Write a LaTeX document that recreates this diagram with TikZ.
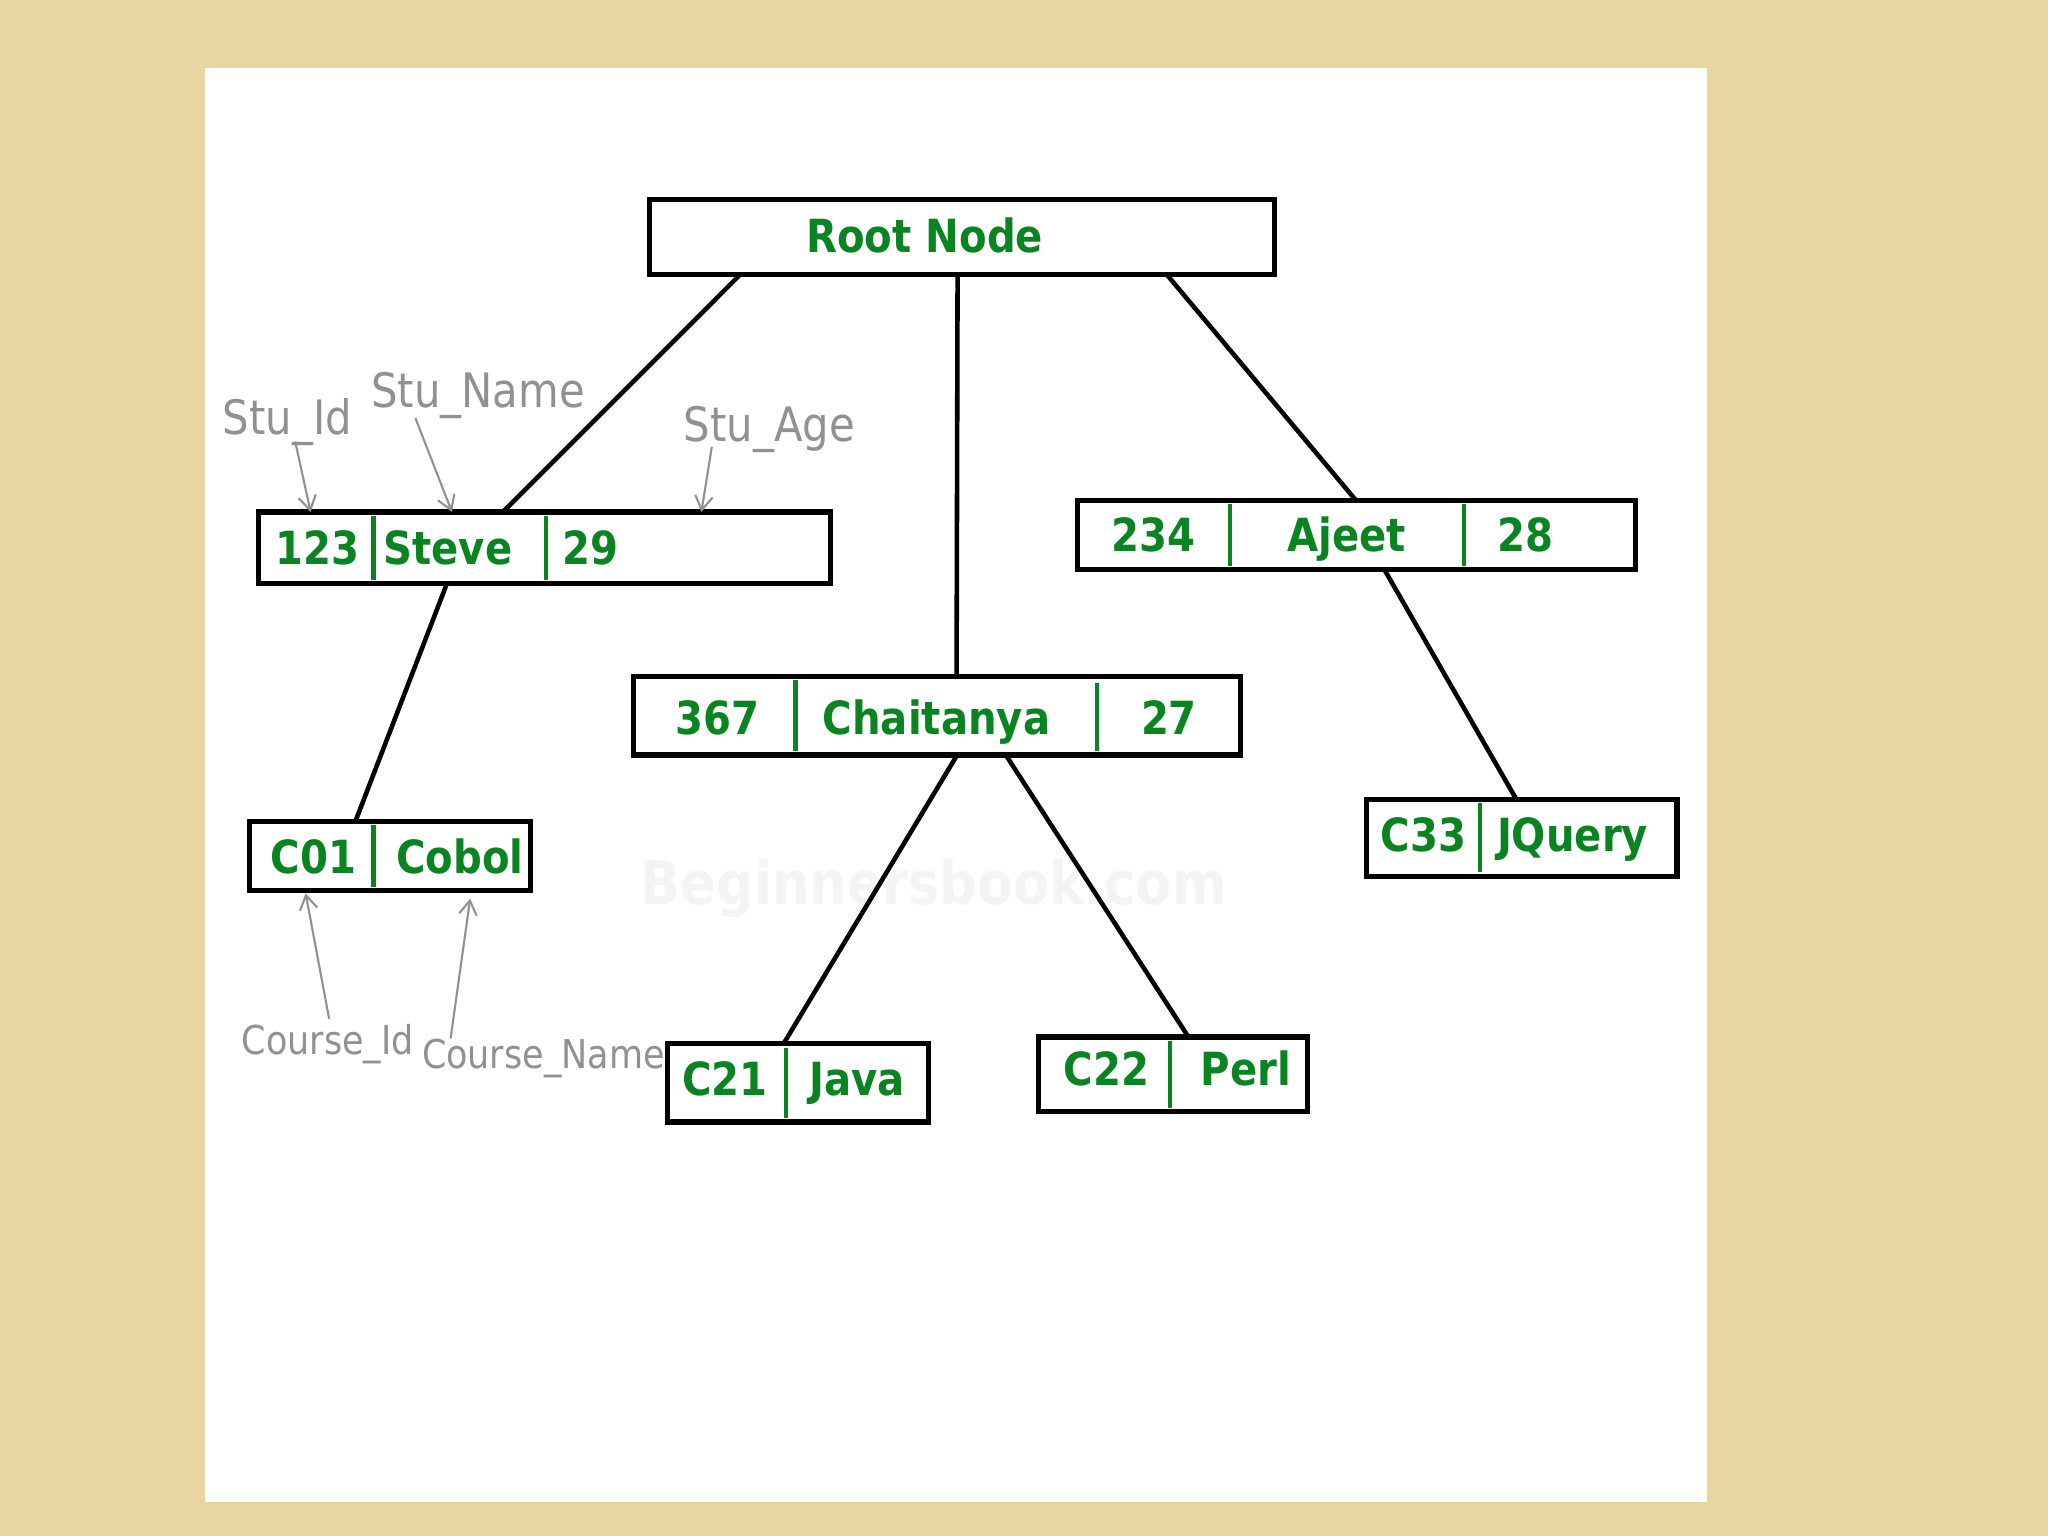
\documentclass[tikz,border=0pt]{standalone}
\usepackage{fontspec}
\newfontfamily\gfont{DejaVu Sans}[FakeStretch=0.88]
\usetikzlibrary{calc,arrows.meta}
\definecolor{bgtan}{RGB}{232,213,160}
\definecolor{dgreen}{RGB}{10,132,32}
\definecolor{lblgray}{RGB}{145,145,145}
\definecolor{wmark}{RGB}{244,244,244}
\begin{document}
\begin{tikzpicture}[x=0.013061cm,y=-0.013061cm,
 box/.style={draw=black,line width=1.5pt,fill=white,inner sep=0pt,outer sep=0pt},
 val/.style={text=dgreen,font=\gfont\bfseries\fontsize{13}{15}\selectfont,inner sep=0pt,anchor=base},
 div/.style={draw=dgreen,line width=1.2pt},
 edge/.style={draw=black,line width=1.3pt},
 lbl/.style={text=lblgray,font=\gfont\fontsize{13.5}{16}\selectfont,inner sep=0pt,anchor=base},
 slbl/.style={text=lblgray,font=\gfont\fontsize{11.3}{13}\selectfont,inner sep=0pt,anchor=base},
 pointer/.style={draw=lblgray,line width=0.6pt,-{Straight Barb[length=4pt,width=5pt]}}]
\useasboundingbox (0,0) rectangle (1568,1176);
\fill[bgtan] (0,0) rectangle (1568,1176);
\fill[white] (157,52) rectangle (1307,1150);
% watermark
\node[text=wmark,font=\gfont\bfseries\fontsize{17}{20}\selectfont,inner sep=0pt] (wm) at (715,680) {Beginnersbook.com};
% boxes
\node[box,minimum width=6.256cm,minimum height=0.744cm] (root) at (736.5,181.5) {};
\node[box,minimum width=5.721cm,minimum height=0.718cm] (steve) at (417,419.5) {};
\node[box,minimum width=5.577cm,minimum height=0.692cm] (ajeet) at (1038.5,409.5) {};
\node[box,minimum width=6.073cm,minimum height=0.784cm] (chai) at (717.5,548) {};
\node[box,minimum width=2.808cm,minimum height=0.692cm] (c01) at (298.5,655.5) {};
\node[box,minimum width=3.109cm,minimum height=0.771cm] (c33) at (1165,641.5) {};
\node[box,minimum width=2.612cm,minimum height=0.784cm] (c21) at (611,829) {};
\node[box,minimum width=2.691cm,minimum height=0.744cm] (c22) at (898,822.5) {};
% dividers
\draw[div] (286,395) -- (286,444);
\draw[div] (418,395) -- (418,444);
\draw[div] (942,386) -- (942,433);
\draw[div] (1121,386) -- (1121,433);
\draw[div] (609,521) -- (609,575);
\draw[div] (840,523) -- (840,575);
\draw[div] (286,632) -- (286,679);
\draw[div] (1133,615) -- (1133,668);
\draw[div] (602,802) -- (602,856);
\draw[div] (896,797) -- (896,848);
% texts
\node[val] (troot) at (708,193) {Root Node};
\node[val] (t123) at (243,432) {123};
\node[val] (tsteve) at (343,432) {Steve};
\node[val] (t29) at (452,432) {29};
\node[val] (t234) at (883,422) {234};
\node[val] (tajeet) at (1031,422) {Ajeet};
\node[val] (t28) at (1168,422) {28};
\node[val] (t367) at (549,562) {367};
\node[val] (tchai) at (717,562) {Chaitanya};
\node[val] (t27) at (895,562) {27};
\node[val] (tc01) at (240,669) {C01};
\node[val] (tcobol) at (352,669) {Cobol};
\node[val] (tc33) at (1090,652) {C33};
\node[val] (tjq) at (1204,652) {JQuery};
\node[val] (tc21) at (555,839) {C21};
\node[val] (tjava) at (656,839) {Java};
\node[val] (tc22) at (847,831) {C22};
\node[val] (tperl) at (954,831) {Perl};
% tree edges
\draw[edge] ($(root.south west)!0.146!(root.south east)$) -- ($(steve.north west)!0.427!(steve.north east)$);
\draw[edge] ($(root.south west)!0.493!(root.south east)$) -- ($(chai.north west)!0.532!(chai.north east)$);
\draw[edge] ($(root.south west)!0.827!(root.south east)$) -- ($(ajeet.north west)!0.499!(ajeet.north east)$);
\draw[edge] ($(steve.south west)!0.329!(steve.south east)$) -- ($(c01.north west)!0.377!(c01.north east)$);
\draw[edge] ($(ajeet.south west)!0.550!(ajeet.south east)$) -- ($(c33.north west)!0.483!(c33.north east)$);
\draw[edge] ($(chai.south west)!0.533!(chai.south east)$) -- ($(c21.north west)!0.445!(c21.north east)$);
\draw[edge] ($(chai.south west)!0.613!(chai.south east)$) -- ($(c22.north west)!0.558!(c22.north east)$);
% gray labels
\node[lbl] (sid) at (220,333) {Stu\_Id};
\node[lbl] (sname) at (366,312) {Stu\_Name};
\node[lbl] (sage) at (589,338) {Stu\_Age};
\node[slbl] (cid) at (251,807) {Course\_Id};
\node[slbl] (cname) at (416,818) {Course\_Name};
\draw[pointer] ($(sid.base)+(6,5)$) -- ($(steve.north west)!0.091!(steve.north east)$);
\draw[pointer] ($(sname.base)+(-48,8)$) -- ($(steve.north west)!0.338!(steve.north east)$);
\draw[pointer] ($(sage.base)+(-44,4)$) -- ($(steve.north west)!0.774!(steve.north east)$);
\draw[pointer] ($(cid.base)+(1,-27)$) -- ($(c01.south west)!0.2!(c01.south east)+(0,2)$);
\draw[pointer] ($(cname.base)+(-71,-23)$) -- ($(c01.south west)!0.786!(c01.south east)+(0,6)$);
\end{tikzpicture}
\end{document}
